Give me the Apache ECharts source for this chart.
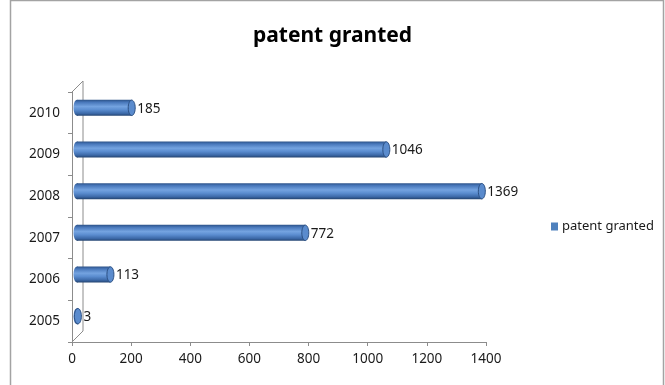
<!DOCTYPE html>
<html>
<head>
<meta charset="utf-8">
<script src="https://cdn.jsdelivr.net/npm/echarts@6/dist/echarts.min.js"></script>
<style>
  html, body { margin: 0; padding: 0; background: #fff; }
  #chart { width: 665px; height: 385px; }
</style>
</head>
<body>
<div id="chart"></div>
<script>
// Patents granted per year
const years = ['2005', '2006', '2007', '2008', '2009', '2010'];
const granted = [3, 113, 772, 1369, 1046, 185];
const xMin = 0, xMax = 1400, xStep = 200;
const seriesName = 'patent granted';

const FONT = '"Noto Sans", "Open Sans", sans-serif';
const GRID = { left: 72, right: 179, top: 92, bottom: 43 };
const DEPTH = 11;          // side-wall depth of the pseudo-3D frame
const BAR_DX = 5, BAR_DY = -5, BAR_H = 16, CAP_RX = 3.5;

const chart = echarts.init(document.getElementById('chart'), null, { renderer: 'canvas' });

const bodyFill = new echarts.graphic.LinearGradient(0, 0, 0, 1, [
  { offset: 0, color: '#2c5288' },
  { offset: 0.15, color: '#4877ba' },
  { offset: 0.42, color: '#74a3e0' },
  { offset: 0.62, color: '#5b8dd0' },
  { offset: 0.85, color: '#3c69a8' },
  { offset: 1, color: '#23436f' }
]);

function renderCylinder(params, api) {
  const v = api.value(0);
  const c = api.value(1);
  const p0 = api.coord([0, c]);
  const p1 = api.coord([v, c]);
  const x0 = p0[0] + BAR_DX;
  const x1 = p1[0] + BAR_DX;
  const cy = p0[1] + BAR_DY;
  return {
    type: 'group',
    children: [
      { type: 'ellipse', shape: { cx: x0, cy: cy, rx: CAP_RX, ry: BAR_H / 2 },
        style: { fill: bodyFill } },
      { type: 'rect', shape: { x: x0, y: cy - BAR_H / 2, width: Math.max(x1 - x0, 0), height: BAR_H },
        style: { fill: bodyFill } },
      { type: 'ellipse', shape: { cx: x1, cy: cy, rx: CAP_RX, ry: BAR_H / 2 - 0.3 },
        style: { fill: '#5a8bcd', stroke: '#2b4f82', lineWidth: 1 } },
      { type: 'text', style: { text: String(v), x: x1 + CAP_RX + 2, y: cy + 1,
          verticalAlign: 'middle', align: 'left', fontSize: 13.5, fontFamily: FONT, fill: '#1a1a1a' } }
    ]
  };
}

const W = 665, H = 385;
const gx = GRID.left, gyTop = GRID.top, gyBot = H - GRID.bottom;

chart.setOption({
  animation: false,
  backgroundColor: '#fff',
  title: {
    text: seriesName,
    left: 'center',
    top: 21,
    textStyle: { fontFamily: FONT, fontSize: 21, fontWeight: 'bold', color: '#000' }
  },
  legend: {
    data: [{ name: seriesName, icon: 'rect' }],
    left: 546,
    top: 215,
    itemWidth: 7,
    itemHeight: 8,
    itemGap: 4,
    textStyle: { fontFamily: FONT, fontSize: 13, color: '#1a1a1a', padding: [0, 0, 0, -1] }
  },
  grid: GRID,
  xAxis: {
    type: 'value',
    min: xMin, max: xMax, interval: xStep,
    axisLine: { show: true, lineStyle: { color: '#8c8c8c', width: 1 } },
    axisTick: { show: true, length: 4, lineStyle: { color: '#8c8c8c' } },
    splitLine: { show: false },
    axisLabel: { fontFamily: FONT, fontSize: 13.5, color: '#1a1a1a', margin: 10,
      formatter: (v) => String(v) }
  },
  yAxis: {
    type: 'category',
    data: years,
    axisLine: { show: true, lineStyle: { color: '#8c8c8c', width: 1 } },
    axisTick: { show: true, length: 4, alignWithLabel: false, lineStyle: { color: '#8c8c8c' } },
    axisLabel: { fontFamily: FONT, fontSize: 13.5, color: '#1a1a1a', margin: 12 }
  },
  graphic: [
    // chart frame
    { type: 'rect', z: -10, silent: true,
      shape: { x: 10.5, y: 0.5, width: 653, height: 420 },
      style: { fill: null, stroke: '#a3a3a3', lineWidth: 1.5 } },
    // side wall of the category axis
    { type: 'polyline', z: -5, silent: true,
      shape: { points: [[gx, gyTop], [gx + DEPTH, gyTop - DEPTH], [gx + DEPTH, gyBot - DEPTH], [gx, gyBot]] },
      style: { fill: null, stroke: '#8c8c8c', lineWidth: 1 } }
  ],
  series: [{
    name: seriesName,
    type: 'custom',
    itemStyle: { color: '#4f81bd' },
    encode: { x: 0, y: 1 },
    renderItem: renderCylinder,
    data: granted.map((v, i) => [v, i])
  }]
});
</script>
</body>
</html>
